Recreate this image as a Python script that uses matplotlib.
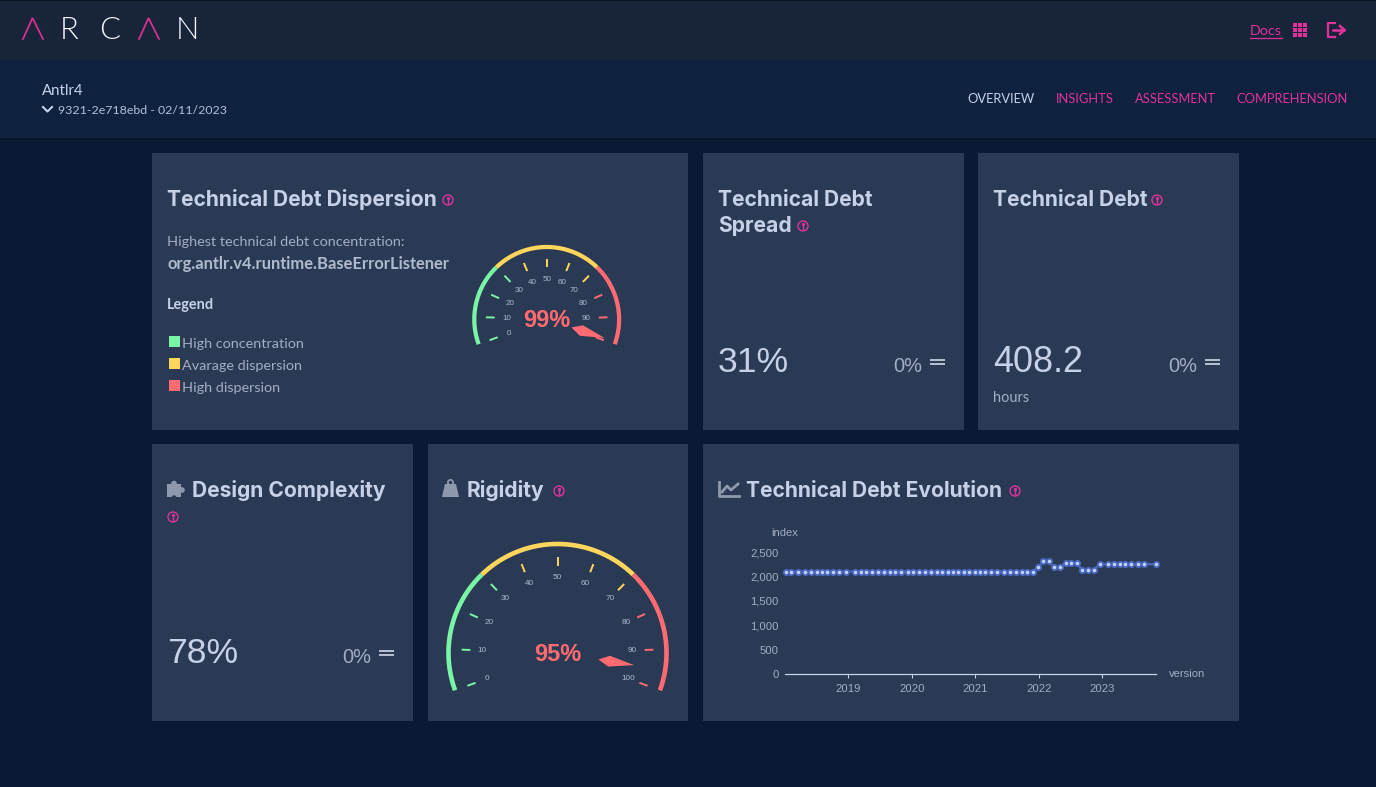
import numpy as np
import matplotlib
matplotlib.use("Agg")
import matplotlib.pyplot as plt
from matplotlib.patches import Rectangle, Circle, Polygon

W, H = 1376, 787
PX = 0.72  # points per pixel at dpi 100

# ---------- data ----------
versions = [2018.016, 2018.099, 2018.203, 2018.323, 2018.411, 2018.505, 2018.583, 2018.672,
            2018.766, 2018.854, 2018.964, 2019.104, 2019.193, 2019.286, 2019.380, 2019.469,
            2019.557, 2019.651, 2019.740, 2019.823, 2019.938, 2020.026, 2020.120, 2020.208,
            2020.302, 2020.391, 2020.474, 2020.573, 2020.656, 2020.734, 2020.823, 2020.905,
            2021.000, 2021.074, 2021.158, 2021.247, 2021.337, 2021.458, 2021.547, 2021.642,
            2021.732, 2021.811, 2021.905, 2021.984, 2022.074, 2022.158, 2022.247, 2022.337,
            2022.421, 2022.511, 2022.600, 2022.684, 2022.774, 2022.863, 2022.958, 2023.090,
            2023.179, 2023.274, 2023.363, 2023.458, 2023.563, 2023.658, 2023.842]
index_values = [2100] * 43 + [2190, 2310, 2310, 2190, 2190, 2270, 2270, 2270, 2130, 2130, 2130,
                              2250, 2250, 2250, 2250, 2250, 2250, 2250, 2250, 2250]
year_ticks = [2019, 2020, 2021, 2022, 2023]
index_ticks = [0, 500, 1000, 1500, 2000, 2500]

dispersion_value = 99
rigidity_value = 95
gauge_ticks = [0, 10, 20, 30, 40, 50, 60, 70, 80, 90, 100]
gauge_zones = [(0, 30), (30, 70), (70, 100)]

legend_labels = ["High concentration", "Avarage dispersion", "High dispersion"]
nav_items = ["OVERVIEW", "INSIGHTS", "ASSESSMENT", "COMPREHENSION"]

# ---------- colours ----------
BG = "#0a1a34"
TOP = "#18243a"
SUB = "#0e2240"
CARD = "#2b3a54"
PINK = "#e0329b"
GREEN = "#7af5a6"
YELLOW = "#ffd65c"
RED = "#ff6b70"
ZONES = [GREEN, YELLOW, RED]
LIGHT = "#c6d1e8"
MUTED = "#a3adc3"
ICON = "#8f99ad"

TITLE_FONT = dict(family="Inter", weight="bold")
BODY = dict(family="Lato")
SANS = "Liberation Sans"

fig = plt.figure(figsize=(W / 100, H / 100), dpi=100, facecolor=BG)
page = fig.add_axes([0, 0, 1, 1])
page.set_xlim(0, W)
page.set_ylim(H, 0)
page.axis("off")


def txt(x, y, s, px, color=LIGHT, ha="left", va="baseline", **kw):
    return page.text(x, y, s, fontsize=px * PX, color=color, ha=ha, va=va, **kw)


def rect(x0, y0, x1, y1, color, z=1):
    page.add_patch(Rectangle((x0, y0), x1 - x0, y1 - y0, fc=color, ec="none", zorder=z))


def info(x, y):
    page.add_patch(Circle((x, y), 5, fc="none", ec=PINK, lw=1.0))
    page.plot([x, x], [y - 0.6, y + 2.8], color=PINK, lw=1.0)
    page.plot([x], [y - 2.5], marker="o", ms=1.3, color=PINK)


# ---------- bands ----------
rect(0, 0, W, 60, TOP)
rect(0, 0, W, 1, "#0b1220", 2)
rect(0, 60, W, 138, SUB)
rect(0, 138, W, 140, "#091529", 2)

# ---------- logo ----------
for x0 in (23, 139):
    page.plot([x0, x0 + 9.5, x0 + 20], [39, 18, 39], color="#d92f8c", lw=1.3, solid_joinstyle="miter")
for x0, letter in ((60, "R"), (99, "C"), (176, "N")):
    txt(x0, 39, letter, 31, "#f2f4f8", family="Lato", weight=300)

# ---------- header right ----------
txt(1250, 35, "Docs", 14.2, PINK, **BODY)
page.plot([1250, 1281.5], [37.5, 37.5], color=PINK, lw=0.9)
for gx in (1293, 1298, 1303):
    for gy in (23, 28, 33):
        rect(gx, gy, gx + 4, gy + 4, PINK, 3)
page.plot([1335, 1328, 1328, 1335], [23, 23, 36.5, 36.5], color=PINK, lw=1.6)
page.plot([1333, 1344], [30, 30], color=PINK, lw=1.8)
page.plot([1340, 1344.5, 1340], [26, 30, 34], color=PINK, lw=1.8)

# ---------- sub header ----------
txt(42, 95, "Antlr4", 15, LIGHT, **BODY)
page.plot([43, 47.5, 52], [107, 111.5, 107], color=LIGHT, lw=1.5)
txt(58.5, 114, "9321-2e718ebd - 02/11/2023", 12.45, "#b4bfd6", **BODY)
for x0, label, col in zip((967, 1056, 1135, 1236), nav_items, (LIGHT, PINK, PINK, PINK)):
    txt(x0, 103, label, 12.9, col, **BODY)

# ---------- cards ----------
for x0, y0, x1, y1 in ((152, 153, 688, 430), (703, 153, 964, 430), (978, 153, 1239, 430),
                       (152, 444, 413, 721), (428, 444, 688, 721), (703, 444, 1239, 721)):
    rect(x0, y0, x1, y1, CARD)

TS = 21
txt(167, 206, "Technical Debt Dispersion", TS, LIGHT, **TITLE_FONT)
info(448, 200)
txt(718, 206, "Technical Debt", TS, LIGHT, **TITLE_FONT)
txt(718, 232, "Spread", TS, LIGHT, **TITLE_FONT)
info(803, 226)
txt(993, 206, "Technical Debt", TS, LIGHT, **TITLE_FONT)
info(1157, 200)
txt(192, 497, "Design Complexity", TS, LIGHT, **TITLE_FONT)
info(173, 517)
txt(467, 497, "Rigidity", TS, LIGHT, **TITLE_FONT)
info(559, 491)
txt(746, 497, "Technical Debt Evolution", TS, LIGHT, **TITLE_FONT)
info(1015, 491)

# puzzle icon
rect(167, 484, 181, 497, ICON, 3)
page.add_patch(Circle((174, 483.5), 2.8, fc=ICON, ec="none", zorder=3))
page.add_patch(Circle((182, 490), 2.8, fc=ICON, ec="none", zorder=3))
page.add_patch(Circle((174, 497.5), 2.3, fc=CARD, ec="none", zorder=4))
# weight icon
page.add_patch(Polygon([(445, 484), (456, 484), (459, 497), (442, 497)], fc=ICON, ec="none", zorder=3))
page.add_patch(Circle((450.5, 482.5), 2.6, fc="none", ec=ICON, lw=1.3, zorder=3))
# chart icon
page.plot([719, 719, 739], [482, 496, 496], color=ICON, lw=2)
page.plot([722, 727, 731, 738], [492, 486, 490, 484], color=ICON, lw=2)

# ---------- dispersion text ----------
txt(167, 246, "Highest technical debt concentration:", 14.4, MUTED, **BODY)
txt(167, 269, "org.antlr.v4.runtime.BaseErrorListener", 16.5, "#b0bace", family="Lato", weight="bold")
txt(167, 309, "Legend", 14.5, LIGHT, family="Lato", weight="bold")
for yy, lab, col in zip((336, 358, 380), legend_labels, ZONES):
    rect(169, yy, 180, yy + 10.5, col, 3)
    txt(182, yy + 12, lab, 14.4, MUTED, **BODY)

# ---------- KPI values ----------
BIG = dict(family=SANS)
txt(718, 372, "31%", 35.5, LIGHT, **BIG)
txt(993, 372, "408.2", 36, LIGHT, **BIG)
txt(167, 663, "78%", 35.5, LIGHT, **BIG)
txt(993, 402, "hours", 14.5, MUTED, **BODY)
for x0, yb in ((893, 372), (1168, 372), (342, 663)):
    txt(x0, yb, "0%", 20, MUTED, **BIG)
    rect(x0 + 37, yb - 13.5, x0 + 52, yb - 11.5, "#b4bdd0", 3)
    rect(x0 + 37, yb - 9.5, x0 + 52, yb - 7.5, "#b4bdd0", 3)


# ---------- gauges ----------
def angle(v):
    return np.deg2rad(200 - 2.2 * v)


def gauge(cx, cy, r, value, lw_px, tick_in, tick_out, lab_r, lab_px, ptr_in, ptr_out, ptr_w, num_px):
    pad = 1.15
    gx = fig.add_axes([(cx - pad * r) / W, 1 - (cy + pad * r) / H, 2 * pad * r / W, 2 * pad * r / H])
    gx.set_xlim(-pad, pad)
    gx.set_ylim(-pad, pad)
    gx.axis("off")
    for (a, b), col in zip(gauge_zones, ZONES):
        th = angle(np.linspace(a, b, 80))
        gx.plot(np.cos(th), np.sin(th), color=col, lw=lw_px * PX, solid_capstyle="butt")
    for v in gauge_ticks:
        col = next(c for (a, b), c in zip(gauge_zones, ZONES) if v <= b)
        th = angle(v)
        gx.plot([tick_in * np.cos(th), tick_out * np.cos(th)],
                [tick_in * np.sin(th), tick_out * np.sin(th)], color=col, lw=1.5 * PX * 1.3,
                solid_capstyle="butt")
        gx.text(lab_r * np.cos(th), lab_r * np.sin(th), str(v), fontsize=lab_px * PX,
                family=SANS, color="#aeb8cd", ha="center", va="center")
    th = angle(value)
    u = np.array([np.cos(th), np.sin(th)])
    n = np.array([-u[1], u[0]])
    mid = ptr_in + 0.3 * (ptr_out - ptr_in)
    pts = [u * ptr_in, u * mid + n * ptr_w, u * ptr_out, u * mid - n * ptr_w]
    gx.add_patch(Polygon(pts, fc=RED, ec="none", zorder=5))
    gx.text(0, -0.01, f"{value}%", fontsize=num_px * PX, family=SANS, weight="bold",
            color=RED, ha="center", va="center", zorder=4)


gauge(546.7, 319.4, 72.4, dispersion_value, 4.2, 0.72, 0.84, 0.55, 8, 0.36, 0.84, 0.075, 23.5)
gauge(557.5, 653, 109, rigidity_value, 4.6, 0.80, 0.88, 0.69, 8.2, 0.38, 0.71, 0.05, 23.5)

# ---------- evolution chart ----------
x_left, x_right, y_top, y_bot = 785, 1156, 552, 674
ax = fig.add_axes([x_left / W, 1 - y_bot / H, (x_right - x_left) / W, (y_bot - y_top) / H])
ax.patch.set_alpha(0)
ax.set_xlim(2018.003, 2023.846)
ax.set_ylim(0, 2500)
ax.plot(versions, index_values, color="#4a68c0", lw=1.6, marker="o", ms=3.8,
        mfc="#c5d2f5", mec="#4a68c0", mew=1.3, clip_on=False, zorder=5)
for s in ("top", "left", "right"):
    ax.spines[s].set_visible(False)
ax.spines["bottom"].set_color(LIGHT)
ax.spines["bottom"].set_linewidth(0.9)
ax.set_xticks(year_ticks)
ax.set_xticklabels([str(y) for y in year_ticks], fontsize=11.2 * PX, family=SANS, color=MUTED)
ax.set_yticks(index_ticks)
ax.set_yticklabels([f"{v:,}" for v in index_ticks], fontsize=11.2 * PX, family=SANS, color=MUTED)
ax.tick_params(axis="x", length=3.5 * PX, width=0.8, color=LIGHT, pad=4.5)
ax.tick_params(axis="y", length=0, pad=4.5)
txt(785, 533, "index", 11.2, MUTED, ha="center", va="center", family=SANS)
txt(1187, 674, "version", 11.2, MUTED, ha="center", va="center", family=SANS)

fig.savefig("out.png", dpi=100, facecolor=BG)
